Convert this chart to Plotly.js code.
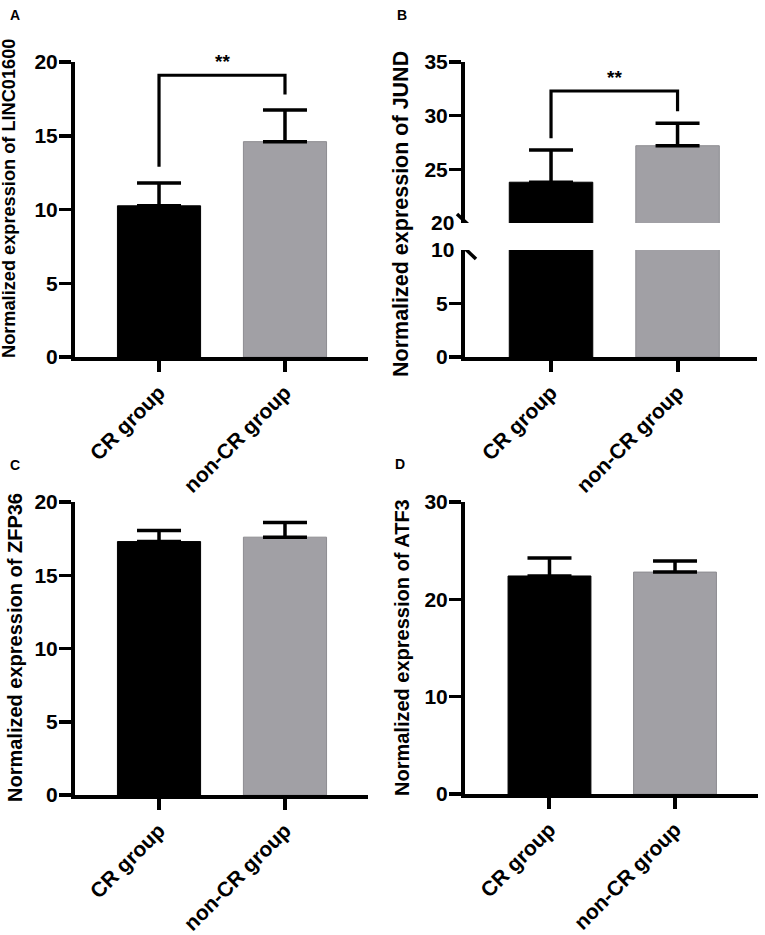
<!DOCTYPE html>
<html>
<head>
<meta charset="utf-8">
<script src="https://cdn.plot.ly/plotly-3.0.1.min.js"></script>
<style>html,body{margin:0;padding:0;background:#fff;}#chart{width:765px;height:935px;}</style>
</head>
<body>
<div id="chart"></div>
<script>
// ---------- data ----------
const groups = ["CR group", "non-CR group"];

const meanLINC01600 = [10.25, 14.6];
const semLINC01600  = [1.55, 2.15];
const bracketLINC01600 = [12.9, 19.1, 17.8];   // left leg end, bar height, right leg end

const meanJUND = [23.8, 27.2];
const semJUND  = [3.0, 2.1];
const bracketJUND = [27.9, 32.3, 30.4];

const meanZFP36 = [17.3, 17.6];
const semZFP36  = [0.75, 1.0];

const meanATF3 = [22.4, 22.8];
const semATF3  = [1.85, 1.15];

const ticksLINC01600 = [0, 5, 10, 15, 20];
const ticksJUNDlow = [0, 5];
const ticksJUNDhigh = [25, 30, 35];
const ticksJUNDbreak = [10, 20];
const ticksZFP36 = [0, 5, 10, 15, 20];
const ticksATF3 = [0, 10, 20, 30];

const panelLetters = ["A", "B", "C", "D"];
const yTitles = [
  "Normalized expression of LINC01600",
  "Normalized expression of JUND",
  "Normalized expression of ZFP36",
  "Normalized expression of ATF3"
];
const sigLabel = "**";

// ---------- style ----------
const FONT = "Liberation Sans, Arial, Helvetica, sans-serif";
const W = 765, H = 935;
const barColors = ["#000000", "#a1a0a5"];
const barLines = ["#000000", "#8d8c91"];
const px = v => v / W;
const py = v => 1 - v / H;
const b = s => "<b>" + s + "</b>";

function barTrace(xa, ya, y, err) {
  const t = {
    type: "bar", x: groups, y: y, xaxis: xa, yaxis: ya, width: 0.66,
    marker: {color: barColors, line: {color: barLines, width: 1}},
    hoverinfo: "skip"
  };
  if (err) {
    t.error_y = {type: "data", symmetric: false, array: err, arrayminus: [0, 0],
                 color: "#000", thickness: 3.5, width: 22};
  }
  return t;
}
function bracketTrace(xa, ya, br) {
  return {
    type: "scatter", mode: "lines", xaxis: xa, yaxis: ya,
    x: [groups[0], groups[0], groups[1], groups[1]],
    y: [br[0], br[1], br[1], br[2]],
    line: {color: "#000", width: 3.2}, hoverinfo: "skip"
  };
}

const data = [
  barTrace("x", "y", meanLINC01600, semLINC01600),
  bracketTrace("x", "y", bracketLINC01600),
  barTrace("x2", "y2", meanJUND, null),
  barTrace("x2", "y3", meanJUND, semJUND),
  bracketTrace("x2", "y3", bracketJUND),
  barTrace("x3", "y4", meanZFP36, semZFP36),
  barTrace("x4", "y5", meanATF3, semATF3)
];

const yTickFont = {family: FONT, size: 21, color: "#000"};
const xTickFont = {family: FONT, size: 21, color: "#000"};
function xax(domain, range, anchor) {
  return {
    type: "category", domain: domain, range: range, anchor: anchor,
    tickvals: groups, ticktext: groups.map(b),
    showline: true, linewidth: 4, linecolor: "#000", mirror: false,
    ticks: "outside", ticklen: 11, tickwidth: 4, tickcolor: "#000",
    tickangle: -45, tickfont: xTickFont, showgrid: false, zeroline: false, fixedrange: true
  };
}
function yax(domain, range, tickvals, anchor) {
  return {
    domain: domain, range: range, anchor: anchor,
    tickvals: tickvals, ticktext: tickvals.map(v => b(String(v))),
    showline: true, linewidth: 4, linecolor: "#000",
    ticks: "outside", ticklen: 12, tickwidth: 3.5, tickcolor: "#000",
    ticklabelstandoff: -3,
    tickfont: yTickFont, showgrid: false, zeroline: false, fixedrange: true
  };
}

const annFont = (s) => ({family: FONT, size: s, color: "#000"});
function paperText(t, x, y, size, angle) {
  return {text: b(t), x: px(x), y: py(y), xref: "paper", yref: "paper",
          xanchor: "center", yanchor: "middle", textangle: angle || 0,
          showarrow: false, font: annFont(size)};
}
const annotations = [
  paperText(panelLetters[0], 15, 15, 14),
  paperText(panelLetters[1], 402, 15, 14),
  paperText(panelLetters[2], 15, 465, 14),
  paperText(panelLetters[3], 400, 464, 14),
  paperText(yTitles[0], 9, 199, 18.2, -90),
  paperText(yTitles[1], 401, 214, 21.5, -90),
  paperText(yTitles[2], 15, 648, 20, -90),
  paperText(yTitles[3], 402, 648, 20, -90),
  {text: b(sigLabel), x: 0.5, y: bracketLINC01600[1], xref: "x", yref: "y", xanchor: "center",
   yanchor: "bottom", yshift: 1, showarrow: false, font: annFont(19)},
  {text: b(sigLabel), x: 0.5, y: bracketJUND[1], xref: "x2", yref: "y3", xanchor: "center",
   yanchor: "bottom", yshift: 1, showarrow: false, font: annFont(19)},
  {text: b(String(ticksJUNDbreak[1])), x: px(456), xanchor: "right", y: ticksJUNDbreak[1], yref: "y3",
   xref: "paper", yanchor: "middle", showarrow: false, font: yTickFont},
  {text: b(String(ticksJUNDbreak[0])), x: px(456), xanchor: "right", y: ticksJUNDbreak[0], yref: "y2",
   xref: "paper", yanchor: "middle", showarrow: false, font: yTickFont}
];

const shapes = [
  {type: "line", xref: "paper", xsizemode: "pixel", xanchor: px(466), x0: -9, x1: 10,
   yref: "y3", ysizemode: "pixel", yanchor: ticksJUNDbreak[1], y0: 9, y1: -9, line: {color: "#000", width: 3.5}},
  {type: "line", xref: "paper", xsizemode: "pixel", xanchor: px(466), x0: -9, x1: 10,
   yref: "y2", ysizemode: "pixel", yanchor: ticksJUNDbreak[0], y0: 9, y1: -9, line: {color: "#000", width: 3.5}}
];

const layout = {
  width: W, height: H, margin: {l: 0, r: 0, t: 0, b: 0},
  paper_bgcolor: "#fff", plot_bgcolor: "rgba(0,0,0,0)", showlegend: false,
  font: {family: FONT, color: "#000"},
  xaxis:  xax([px(75), px(368)], [-0.667, 1.659], "y"),
  yaxis:  yax([py(357), py(62)], [0, 20], ticksLINC01600, "x"),
  xaxis2: xax([px(465), px(757)], [-0.68, 1.628], "y2"),
  yaxis2: yax([py(357), py(250)], [0, 10], ticksJUNDlow, "x2"),
  yaxis3: yax([py(223), py(62)], [20, 35], ticksJUNDhigh, "x2"),
  xaxis3: xax([px(75), px(368)], [-0.667, 1.659], "y4"),
  yaxis4: yax([py(795), py(502)], [0, 20], ticksZFP36, "x3"),
  xaxis4: xax([px(465), px(758)], [-0.673, 1.661], "y5"),
  yaxis5: yax([py(794), py(502)], [0, 30], ticksATF3, "x4"),
  annotations: annotations,
  shapes: shapes
};

Plotly.newPlot("chart", data, layout, {staticPlot: true, displayModeBar: false});
</script>
</body>
</html>
